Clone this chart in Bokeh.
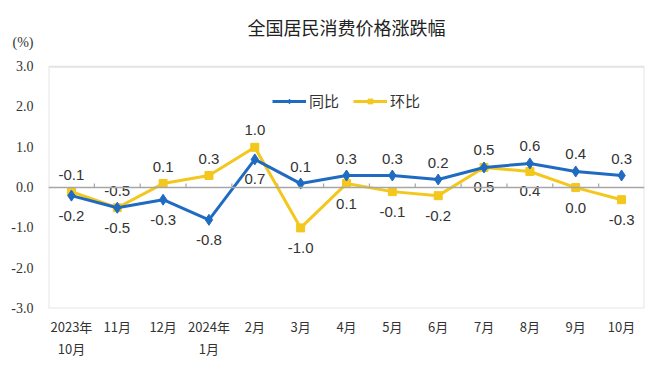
from bokeh.plotting import figure
from bokeh.models import (Span, Legend, LegendItem, ColumnDataSource, BoxAnnotation,
                          FactorRange, PrintfTickFormatter, FixedTicker)
from bokeh.transform import dodge
from bokeh.core.properties import value
from bokeh.embed import file_html
from bokeh.resources import INLINE

# ---- data ----
categories = ["2023年\n10月", "11月", "12月", "2024年\n1月", "2月", "3月", "4月",
              "5月", "6月", "7月", "8月", "9月", "10月"]
yoy = [-0.2, -0.5, -0.3, -0.8, 0.7, 0.1, 0.3, 0.3, 0.2, 0.5, 0.6, 0.4, 0.3]   # 同比
mom = [-0.1, -0.5, 0.1, 0.3, 1.0, -1.0, 0.1, -0.1, -0.2, 0.5, 0.4, 0.0, -0.3]  # 环比
y_ticks = [-3, -2, -1, 0, 1, 2, 3]
title_text = "全国居民消费价格涨跌幅"
unit_text = "(%)"
series_names = ["同比", "环比"]

# ---- style ----
BLUE = "#1F6BC2"
YELLOW = "#F4C71C"
GRAY = "#A6A6A6"
UNIT_GAP = 0.6          # unit label sits this far above the top tick
# label placement: True = above the point
yoy_above = [False] * 5 + [True] * 8
mom_above = [True] * 5 + [False] * 8
ABOVE_OFF = -17
BELOW_OFF = 20

y_lo, y_hi = y_ticks[0], y_ticks[-1]
unit_pos = y_hi + UNIT_GAP

p = figure(x_range=FactorRange(*categories), y_range=(y_lo, unit_pos),
           width=654, height=365, output_backend="svg", toolbar_location=None,
           min_border_left=48, min_border_right=10, min_border_top=42,
           min_border_bottom=57)

p.xgrid.visible = False
p.ygrid.visible = False
p.outline_line_color = None
p.background_fill_color = "white"
p.border_fill_color = "white"

# plot box spanning the tick range
p.add_layout(BoxAnnotation(bottom=y_lo, top=y_hi, fill_alpha=0,
                           line_color=GRAY, line_width=2))

# title
p.title.text = title_text
p.title.align = "center"
p.title.text_font = "Noto Sans CJK SC"
p.title.text_font_size = "18px"
p.title.text_font_style = "normal"
p.title.text_color = "#222222"
p.title.text_line_height = 1.0
p.title.standoff = 5

# axes
p.yaxis.ticker = FixedTicker(ticks=y_ticks + [unit_pos])
p.yaxis.formatter = PrintfTickFormatter(format="%.1f")
p.yaxis.major_label_overrides = {unit_pos: unit_text}
p.yaxis.axis_line_color = None
p.yaxis.major_tick_in = 0
p.yaxis.major_tick_out = 0
p.yaxis.minor_tick_line_color = None
p.yaxis.major_label_text_font = "Liberation Serif"
p.yaxis.major_label_text_font_size = "14px"
p.yaxis.major_label_text_color = "#333333"
p.yaxis.major_label_standoff = 15

p.xaxis.axis_line_color = None
p.xaxis.major_tick_line_color = None
p.xaxis.major_tick_in = 0
p.xaxis.major_tick_out = 0
p.xaxis.major_label_text_font = "Noto Sans CJK SC"
p.xaxis.major_label_text_font_size = "13px"
p.xaxis.major_label_text_color = "#333333"
p.xaxis.major_label_standoff = 8

# zero line with small category-boundary ticks
p.add_layout(Span(location=0, dimension="width", line_color=GRAY, line_width=1.5))
bsrc = ColumnDataSource(dict(c=categories[1:]))
p.segment(x0=dodge("c", -0.5, range=p.x_range), y0=0,
          x1=dodge("c", -0.5, range=p.x_range), y1=0.1,
          source=bsrc, line_color=GRAY, line_width=1.2)

src = ColumnDataSource(dict(
    cat=categories, yoy=yoy, mom=mom,
    yoy_lbl=["%.1f" % v for v in yoy],
    mom_lbl=["%.1f" % v for v in mom],
    yoy_off=[ABOVE_OFF if a else BELOW_OFF for a in yoy_above],
    mom_off=[ABOVE_OFF if a else BELOW_OFF for a in mom_above],
))

l2 = p.line("cat", "mom", source=src, line_color=YELLOW, line_width=3)
s2 = p.scatter("cat", "mom", source=src, marker="square", size=8,
               fill_color=YELLOW, line_color=YELLOW)
l1 = p.line("cat", "yoy", source=src, line_color=BLUE, line_width=3)
s1 = p.scatter("cat", "yoy", source=src, marker="diamond", size=11,
               fill_color=BLUE, line_color=BLUE)

for col, off, yfield in (("yoy_lbl", "yoy_off", "yoy"), ("mom_lbl", "mom_off", "mom")):
    p.text(x="cat", y=yfield, text=col, y_offset=off, source=src,
           text_align="center", text_baseline="middle",
           text_font=value("Liberation Sans"), text_font_size="15px",
           text_color="#333333")

legend = Legend(items=[LegendItem(label=series_names[0], renderers=[l1, s1]),
                       LegendItem(label=series_names[1], renderers=[l2, s2])],
                orientation="horizontal", location=(224, 197),
                border_line_color=None, background_fill_alpha=0,
                label_text_font="Noto Sans CJK SC", label_text_font_size="15px",
                label_text_color="#333333",
                glyph_width=34, glyph_height=12, spacing=14, padding=0, margin=0,
                label_standoff=3)
p.add_layout(legend)

open("out.html", "w").write(file_html(p, INLINE))
